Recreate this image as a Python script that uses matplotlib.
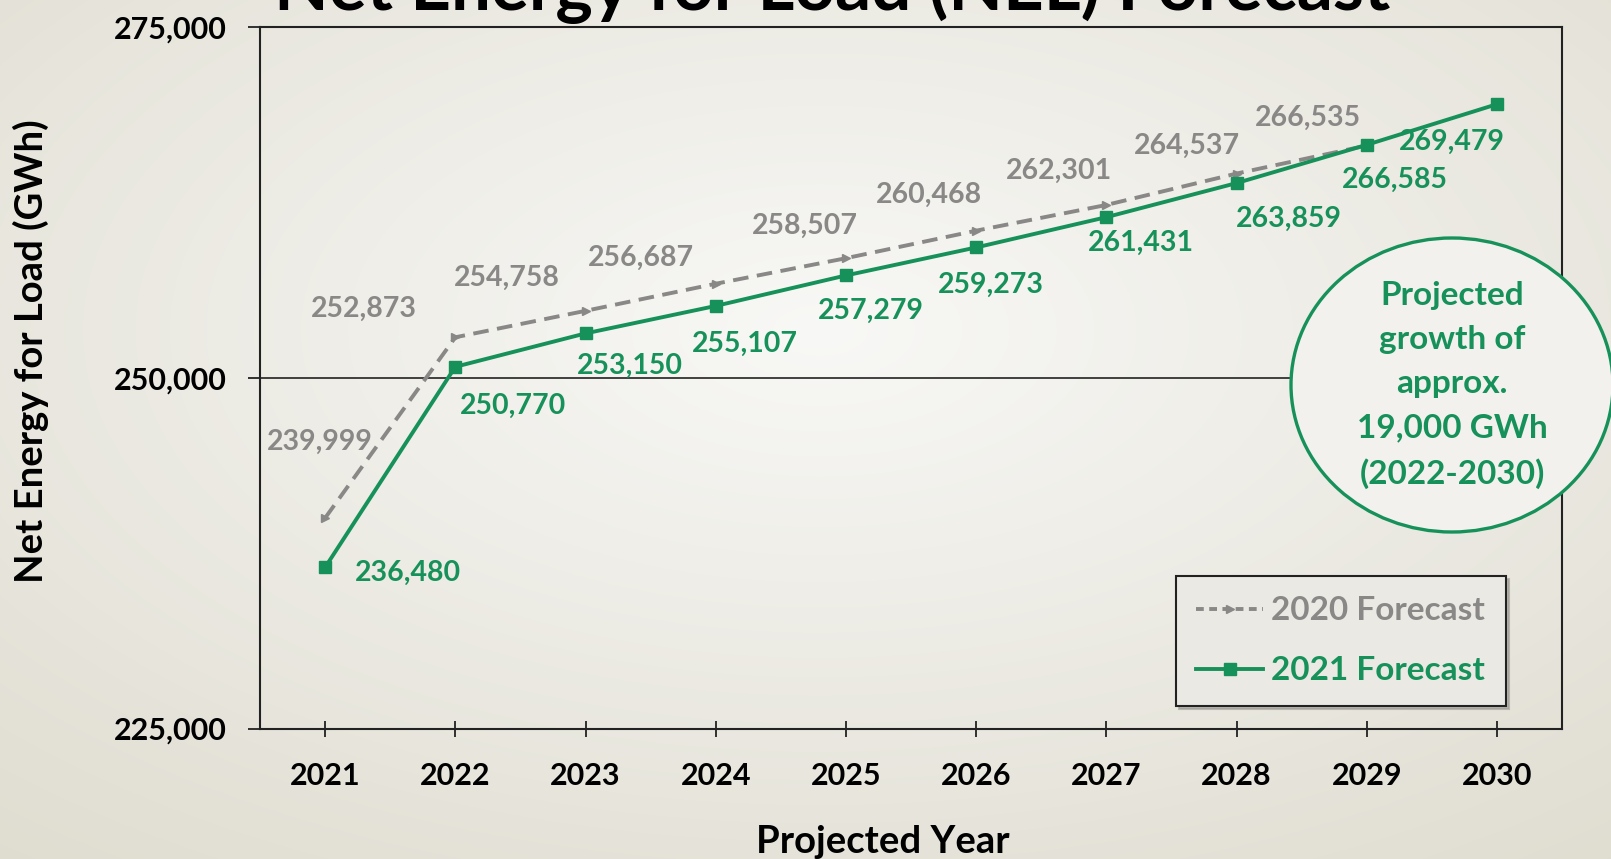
import numpy as np
import matplotlib.pyplot as plt
from matplotlib.patches import Ellipse
from matplotlib.lines import Line2D
from matplotlib.ticker import FuncFormatter

plt.rcParams['font.family'] = ['Lato', 'DejaVu Sans']
plt.rcParams['font.weight'] = 'bold'

# forecast values (GWh)
years = [2021, 2022, 2023, 2024, 2025, 2026, 2027, 2028, 2029, 2030]
years_2020 = [2021, 2022, 2023, 2024, 2025, 2026, 2027, 2028, 2029]
nel_2020 = [239999, 252873, 254758, 256687, 258507, 260468, 262301, 264537, 266535]
nel_2021 = [236480, 250770, 253150, 255107, 257279, 259273, 261431, 263859, 266585, 269479]
y_ticks = [225000, 250000, 275000]

GREEN = '#17915a'
GRAY = '#8a8787'

# label offsets in pixels (dx, dy)
off_2020 = [(-5, 76), (-91, 28), (-79, 33), (-75, 26), (-41, 32), (-47, 36),
            (-47, 34), (-50, 28), (-59, 28)]
off_2021 = [(83, -5), (58, -39), (44, -32), (29, -38), (25, -35), (15, -37),
            (35, -26), (52, -36), (28, -35), (-45, -38)]

fig = plt.figure(figsize=(16.11, 8.59), dpi=100)

# slide-style radial background
H, W = 859, 1611
yy, xx = np.mgrid[0:H, 0:W]
d = np.sqrt(((xx - 820) / W) ** 2 + ((yy - 330) / H) ** 2)
t = np.clip(d / 0.85, 0, 1)[..., None]
c0 = np.array([248, 248, 246]) / 255
c1 = np.array([222, 219, 206]) / 255
grad = c0 * (1 - t) + c1 * t
bg = fig.add_axes([0, 0, 1, 1], zorder=-10)
bg.imshow(grad, aspect='auto')
bg.axis('off')

ax = fig.add_axes([0.1614, 0.1519, 0.8082, 0.8170])
ax.patch.set_visible(False)

ax.plot(years_2020, nel_2020, color=GRAY, lw=2.8, linestyle=(0, (4.0, 2.2)),
        marker='>', ms=6, zorder=3)
ax.plot(years, nel_2021, color=GREEN, lw=2.8, marker='s', ms=8.5, zorder=4)

for x, v, (dx, dy) in zip(years_2020, nel_2020, off_2020):
    ax.annotate(f'{v:,}', (x, v), xytext=(dx, dy), textcoords='offset pixels',
                ha='center', va='center', color=GRAY, fontsize=20.5)
for x, v, (dx, dy) in zip(years, nel_2021, off_2021):
    ax.annotate(f'{v:,}', (x, v), xytext=(dx, dy), textcoords='offset pixels',
                ha='center', va='center', color=GREEN, fontsize=20.5)

ax.set_xlim(2020.5, 2030.5)
ax.set_ylim(225000, 275000)
ax.set_xticks(years)
ax.set_yticks(y_ticks)
ax.yaxis.set_major_formatter(FuncFormatter(lambda v, p: f'{int(v):,}'))
ax.tick_params(axis='x', direction='inout', length=12, width=1.3, pad=18,
               labelsize=22, colors='#222222', labelcolor='black')
ax.tick_params(axis='y', direction='out', length=9, width=1.3, pad=15,
               labelsize=22, colors='#222222', labelcolor='black')
ax.grid(axis='y', color='#222222', lw=1.2)
ax.set_axisbelow(True)
for s in ax.spines.values():
    s.set_color('#222222')
    s.set_linewidth(1.5)

fig.text(832 / W, 1 - 10 / H, 'Net Energy for Load (NEL) Forecast', ha='center',
         va='baseline', fontsize=51, color='black')
fig.text(31 / W, 1 - 351 / H, 'Net Energy for Load (GWh)', rotation=90,
         ha='center', va='center', fontsize=27.5)
fig.text(883 / W, 1 - 842 / H, 'Projected Year', ha='center', va='center',
         fontsize=27.5)

handles = [
    Line2D([], [], color=GRAY, lw=2.8, linestyle=(0, (2.0, 1.4)), marker='>', ms=6),
    Line2D([], [], color=GREEN, lw=2.8, marker='s', ms=8.5),
]
leg = ax.legend(handles, ['2020 Forecast', '2021 Forecast'], loc='lower right',
                bbox_to_anchor=(0.957, 0.032), borderaxespad=0, fontsize=24,
                frameon=True, fancybox=False,
                shadow={'color': '#9a9890', 'alpha': 0.6},
                handlelength=2.0, handletextpad=0.25, borderpad=0.62,
                labelspacing=0.93, edgecolor='#222222', facecolor='#ebe9e4',
                framealpha=1)
leg.get_frame().set_linewidth(1.5)
for txt, col in zip(leg.get_texts(), [GRAY, GREEN]):
    txt.set_color(col)

# callout bubble over the right edge
bubble = Ellipse((1452 / W, 1 - 385 / H), 322 / W, 294 / H, transform=fig.transFigure,
                 facecolor='#f2f1ed', edgecolor=GREEN, lw=2.4, zorder=10)
fig.patches.append(bubble)
fig.text(1452 / W, 1 - 385 / H,
         'Projected\ngrowth of\napprox.\n19,000 GWh\n(2022-2030)',
         ha='center', va='center', fontsize=24, color=GREEN, linespacing=1.63,
         zorder=11)

fig.savefig('out.png', dpi=100)
